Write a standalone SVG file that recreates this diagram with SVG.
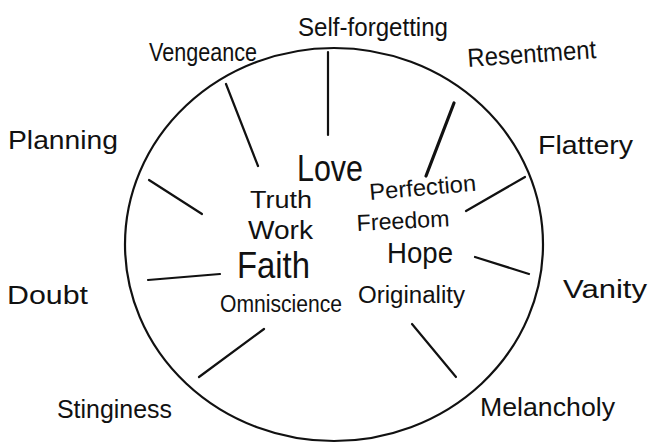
<svg xmlns="http://www.w3.org/2000/svg" width="651" height="443" viewBox="0 0 651 443">
<style>
  text { font-family: "Liberation Sans", "DejaVu Sans", sans-serif; fill: #111; }
  .outer { font-size: 26px; }
  .inner { font-size: 23px; }
  .spoke { stroke: #111; stroke-width: 2.2; stroke-linecap: round; fill: none; }
  .ring { stroke: #111; stroke-width: 2.2; fill: none; }
</style>
<rect width="651" height="443" fill="#fff"/>
<g id="circle"><ellipse class="ring" cx="334" cy="244.5" rx="209" ry="196.5"/></g>
<g id="connectors">
  <line class="spoke" x1="328" y1="52" x2="328" y2="135"/>
  <line class="spoke" x1="226" y1="84" x2="258" y2="166"/>
  <line class="spoke" x1="149" y1="180" x2="202" y2="214"/>
  <line class="spoke" x1="148" y1="280" x2="220" y2="274"/>
  <line class="spoke" x1="199" y1="377" x2="264" y2="329"/>
  <line class="spoke" x1="412" y1="324" x2="456" y2="377"/>
  <line class="spoke" x1="475" y1="257" x2="529" y2="274"/>
  <line class="spoke" x1="525" y1="177" x2="466" y2="211"/>
  <line class="spoke" x1="454" y1="103" x2="426" y2="176" style="stroke-width:3.2"/>
</g>
<g id="node-self-forgetting"><text class="outer" x="298" y="36" textLength="150" lengthAdjust="spacingAndGlyphs">Self-forgetting</text></g>
<g id="node-vengeance"><text class="outer" x="149" y="61" textLength="108" lengthAdjust="spacingAndGlyphs">Vengeance</text></g>
<g id="node-resentment"><text class="outer" x="468" y="67" textLength="129" lengthAdjust="spacingAndGlyphs" transform="rotate(-4 468 67)">Resentment</text></g>
<g id="node-flattery"><text class="outer" x="538" y="154" textLength="95" lengthAdjust="spacingAndGlyphs">Flattery</text></g>
<g id="node-planning"><text class="outer" x="8" y="149" textLength="110" lengthAdjust="spacingAndGlyphs">Planning</text></g>
<g id="node-doubt"><text class="outer" x="7" y="304" textLength="81" lengthAdjust="spacingAndGlyphs">Doubt</text></g>
<g id="node-stinginess"><text class="outer" x="57" y="418" textLength="115" lengthAdjust="spacingAndGlyphs">Stinginess</text></g>
<g id="node-melancholy"><text class="outer" x="480" y="416" textLength="135" lengthAdjust="spacingAndGlyphs">Melancholy</text></g>
<g id="node-vanity"><text class="outer" x="563" y="298" textLength="84" lengthAdjust="spacingAndGlyphs">Vanity</text></g>
<g id="node-love"><text x="297" y="181" style="font-size:36px" textLength="66" lengthAdjust="spacingAndGlyphs">Love</text></g>
<g id="node-truth"><text class="inner" x="250" y="208" textLength="62" lengthAdjust="spacingAndGlyphs">Truth</text></g>
<g id="node-work"><text x="248" y="239" style="font-size:25px" textLength="65" lengthAdjust="spacingAndGlyphs">Work</text></g>
<g id="node-faith"><text x="237" y="278" style="font-size:37px" textLength="73" lengthAdjust="spacingAndGlyphs">Faith</text></g>
<g id="node-omniscience"><text class="inner" x="220" y="312" textLength="122" lengthAdjust="spacingAndGlyphs">Omniscience</text></g>
<g id="node-perfection"><text class="inner" x="370" y="200" textLength="107" lengthAdjust="spacingAndGlyphs" transform="rotate(-5 370 200)">Perfection</text></g>
<g id="node-freedom"><text class="inner" x="357" y="231" textLength="93" lengthAdjust="spacingAndGlyphs" transform="rotate(-3 357 231)">Freedom</text></g>
<g id="node-hope"><text x="387" y="263" style="font-size:30px" textLength="66" lengthAdjust="spacingAndGlyphs">Hope</text></g>
<g id="node-originality"><text class="inner" x="358" y="303" textLength="107" lengthAdjust="spacingAndGlyphs">Originality</text></g>
</svg>
